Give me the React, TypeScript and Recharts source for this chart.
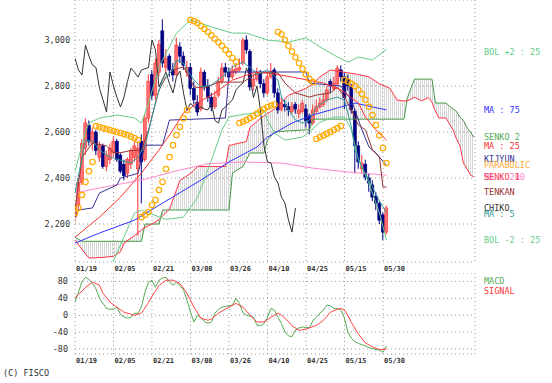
import React from 'react';
import { ComposedChart, Line, Bar, Area, XAxis, YAxis, CartesianGrid } from 'recharts';

// ---------- tick labels ----------
const dateLabels = ['01/19', '02/05', '02/21', '03/08', '03/26', '04/10', '04/25', '05/15', '05/30'];
const dateTickIdx = [0, 11, 22, 33, 44, 55, 66, 77, 88];
const priceTicks = [2200, 2400, 2600, 2800, 3000];
const macdTicks = [-80, -40, 0, 40, 80];

// ---------- daily candles (index 0 = 01/19) ----------
const openP = [2230, 2280, 2380, 2530, 2630, 2550, 2600, 2490, 2540, 2450,
  2480, 2510, 2560, 2500, 2460, 2420, 2460, 2490, 2440, 2560,
  2480, 2660, 2850, 2760, 2860, 3040, 2880, 2930, 2870, 2850,
  2970, 2930, 2860, 2880, 2790, 2730, 2700, 2860, 2800, 2750,
  2710, 2760, 2820, 2880, 2860, 2840, 2860, 2870, 2900, 3000,
  2950, 2800, 2830, 2860, 2810, 2770, 2840, 2870, 2770, 2700,
  2720, 2710, 2690, 2720, 2680, 2690, 2700, 2670, 2640, 2690,
  2710, 2720, 2740, 2820, 2790, 2810, 2870, 2840, 2830, 2800,
  2690, 2540, 2440, 2460, 2400, 2370, 2320, 2290, 2240, 2165];
const highP = [2300, 2400, 2570, 2660, 2650, 2620, 2610, 2560, 2550, 2520,
  2550, 2580, 2570, 2510, 2480, 2490, 2530, 2560, 2560, 2590,
  2680, 2850, 2870, 2920, 3000, 3090, 2960, 2940, 2900, 3010,
  2990, 2950, 2910, 2900, 2820, 2760, 2880, 2870, 2830, 2770,
  2780, 2840, 2900, 2900, 2880, 2890, 2900, 2920, 3010, 3020,
  2960, 2850, 2880, 2870, 2830, 2860, 2900, 2880, 2790, 2750,
  2740, 2730, 2730, 2730, 2720, 2740, 2720, 2680, 2720, 2740,
  2750, 2770, 2800, 2830, 2840, 2890, 2890, 2860, 2850, 2810,
  2700, 2560, 2500, 2480, 2420, 2390, 2340, 2300, 2250, 2280];
const lowP = [2200, 2260, 2370, 2500, 2540, 2520, 2500, 2470, 2440, 2430,
  2460, 2490, 2470, 2420, 2390, 2400, 2440, 2470, 2150, 2290,
  2470, 2640, 2740, 2740, 2840, 2880, 2860, 2840, 2820, 2840,
  2900, 2870, 2840, 2760, 2720, 2670, 2690, 2780, 2730, 2690,
  2700, 2750, 2810, 2840, 2820, 2830, 2850, 2860, 2890, 2940,
  2780, 2780, 2820, 2790, 2750, 2760, 2830, 2750, 2680, 2690,
  2690, 2670, 2680, 2680, 2660, 2680, 2620, 2590, 2630, 2680,
  2700, 2710, 2730, 2770, 2780, 2800, 2820, 2700, 2780, 2680,
  2420, 2440, 2420, 2390, 2340, 2300, 2260, 2200, 2130, 2155];
const closeP = [2280, 2380, 2550, 2640, 2560, 2600, 2520, 2540, 2450, 2500,
  2530, 2560, 2480, 2430, 2410, 2480, 2520, 2540, 2530, 2470,
  2660, 2820, 2760, 2900, 2980, 2900, 2921, 2870, 2848, 2978,
  2930, 2891, 2880, 2790, 2740, 2687, 2861, 2800, 2750, 2709,
  2752, 2820, 2878, 2860, 2839, 2870, 2875, 2880, 3000, 2957,
  2796, 2830, 2860, 2810, 2770, 2840, 2865, 2770, 2696, 2725,
  2710, 2696, 2710, 2700, 2696, 2725, 2650, 2639, 2696, 2710,
  2725, 2740, 2783, 2800, 2813, 2878, 2840, 2750, 2800, 2696,
  2540, 2470, 2465, 2404, 2378, 2317, 2291, 2217, 2165, 2270];

// ---------- indicator readings: [day index, value] ----------
const ma5Pts = [[0, 2335], [3, 2565], [5, 2560], [7, 2522], [10, 2491], [13, 2478], [16, 2465], [18, 2491], [20, 2540], [21, 2600], [23, 2730], [25, 2826], [28, 2870], [29, 2913], [31, 2900], [32, 2870], [34, 2826], [36, 2796], [39, 2805], [42, 2839], [45, 2883], [48, 2904], [51, 2870], [52, 2850], [55, 2870], [58, 2826], [59, 2752], [61, 2696], [63, 2652], [65, 2639], [67, 2652], [69, 2709], [72, 2739], [75, 2752], [77, 2739], [79, 2622], [80, 2522], [82, 2448], [85, 2361], [87, 2300], [89, 2250]];
const ma25Pts = [[0, 2143], [7, 2230], [13, 2317], [19, 2422], [24, 2522], [28, 2609], [31, 2683], [35, 2726], [40, 2770], [45, 2826], [51, 2857], [54, 2860], [62, 2839], [71, 2813], [76, 2783], [81, 2726], [83, 2665], [86, 2609], [89, 2565]];
const ma75Pts = [[0, 2117], [7, 2161], [17, 2217], [26, 2300], [36, 2391], [44, 2470], [52, 2535], [55, 2578], [62, 2639], [68, 2674], [76, 2709], [80, 2726], [89, 2696]];
const ma200Pts = [[0, 2335], [7, 2357], [19, 2391], [30, 2435], [38, 2462], [48, 2470], [59, 2465], [68, 2443], [78, 2426], [89, 2413]];
const bolUpPts = [[0, 2430], [3, 2600], [4, 2639], [7, 2661], [12, 2674], [17, 2661], [19, 2639], [21, 2726], [24, 2883], [29, 3030], [33, 3087], [39, 3057], [45, 3030], [49, 3030], [55, 3000], [61, 2991], [66, 3009], [70, 2970], [75, 2926], [78, 2904], [81, 2926], [85, 2913], [89, 2960]];
const bolDnPts = [[0, 1860], [7, 1820], [9, 1900], [11, 2040], [17, 2248], [19, 2260], [26, 2220], [31, 2230], [35, 2315], [39, 2478], [42, 2609], [44, 2665], [47, 2674], [51, 2683], [54, 2696], [55, 2652], [57, 2596], [60, 2565], [65, 2578], [67, 2600], [70, 2643], [74, 2665], [77, 2665], [79, 2609], [81, 2478], [84, 2378], [87, 2248], [89, 2130]];
const tenkanPts = [[0, 2260], [2, 2491], [5, 2552], [9, 2540], [11, 2510], [13, 2510], [16, 2520], [19, 2520], [21, 2609], [24, 2783], [26, 2839], [28, 2870], [31, 2883], [32, 2857], [34, 2796], [37, 2791], [41, 2817], [48, 2817], [52, 2857], [58, 2857], [60, 2813], [63, 2770], [67, 2752], [69, 2761], [73, 2770], [75, 2796], [77, 2752], [79, 2696], [81, 2630], [83, 2609], [85, 2522], [87, 2491], [88, 2361], [89, 2361]];
const kijunPts = [[0, 2230], [1, 2261], [5, 2270], [7, 2335], [12, 2370], [13, 2400], [18, 2420], [20, 2543], [25, 2543], [27, 2652], [43, 2661], [44, 2861], [66, 2861], [67, 2813], [76, 2800], [79, 2739], [82, 2609], [84, 2535], [86, 2509], [89, 2455]];

// leading spans (cloud), read at common day indices
const cloudIdx = [0, 2, 4, 8, 11, 13, 14, 17, 19, 20, 22, 24, 25, 27, 30, 33, 35, 39, 43, 44, 45, 48, 49, 50, 53, 54, 55, 57, 61, 66, 67, 68, 70, 73, 77, 81, 84, 87, 90, 92, 94, 95, 97, 99, 101, 102, 103, 104, 106, 108, 109, 110, 111, 112, 113, 114];
const senko1 = [2130, 2090, 2052, 2055, 2060, 2080, 2117, 2150, 2175, 2185, 2200, 2220, 2235, 2265, 2390, 2420, 2450, 2450, 2450, 2540, 2545, 2555, 2560, 2620, 2660, 2670, 2680, 2700, 2760, 2790, 2800, 2810, 2840, 2870, 2860, 2850, 2840, 2810, 2790, 2739, 2735, 2735, 2752, 2735, 2750, 2730, 2690, 2661, 2661, 2610, 2570, 2540, 2465, 2440, 2413, 2405];
const senko2 = [2143, 2125, 2125, 2125, 2125, 2125, 2125, 2125, 2125, 2200, 2200, 2200, 2261, 2261, 2261, 2261, 2261, 2261, 2261, 2261, 2422, 2450, 2480, 2509, 2509, 2509, 2565, 2600, 2605, 2609, 2609, 2656, 2656, 2656, 2656, 2656, 2656, 2656, 2656, 2656, 2656, 2750, 2830, 2830, 2830, 2830, 2726, 2726, 2726, 2700, 2690, 2665, 2650, 2620, 2600, 2578];

// parabolic SAR, one per day
const sar = [2248, 2270, 2326, 2383, 2430, 2470,
  2626, 2622, 2617, 2613, 2609, 2604, 2600, 2596, 2591, 2587, 2580, 2574, 2565,
  2230, 2239, 2252, 2283, 2304, 2348, 2383, 2439, 2491, 2543, 2587, 2622, 2660, 2696,
  3087, 3082, 3074, 3061, 3048, 3035, 3020, 3005, 2990, 2975, 2957, 2940, 2922, 2905,
  2639, 2645, 2652, 2661, 2670, 2680, 2690, 2700, 2709, 2715, 2720,
  3035, 3025, 3000, 2975, 2950, 2925, 2900, 2875, 2850, 2830, 2817,
  2570, 2578, 2585, 2593, 2600, 2609, 2617, 2626,
  2826, 2820, 2810, 2800, 2783, 2765, 2740, 2710, 2674, 2630, 2585, 2530, 2465];

// MACD, one per day; signal read at selected days
const macd = [31, 55, 80, 90, 85, 75, 62, 40, 28, 16,
  14, 14, 19, 2, -4, -7, -5, 5, 4, 20,
  55, 78, 83, 66, 83, 88, 90, 78, 71, 78,
  70, 60, 35, 7, -16, 0, -7, -15, -19, -16,
  5, 14, 19, 21, 22, 24, 40, 28, 5, 0,
  -2, -5, -24, -25, -20, -5, 16, 12, -5, -20,
  -40, -49, -51, -35, -30, -28, -29, -30, -12, -5,
  5, 12, 24, 22, 16, 16, 12, -7, -40, -55,
  -63, -67, -70, -73, -77, -79, -81, -83, -88, -73];
const signalPts = [[0, 42], [1, 49], [3, 66], [5, 78], [7, 71], [8, 52], [10, 31], [12, 19], [14, 7], [17, 0], [19, 5], [21, 30], [22, 45], [24, 70], [26, 83], [28, 83], [30, 75], [32, 52], [34, 19], [36, -7], [38, -12], [39, -9], [41, 5], [44, 19], [46, 28], [48, 19], [50, 0], [52, -16], [54, -16], [56, -5], [58, 5], [59, 0], [61, -15], [62, -25], [64, -36], [66, -33], [69, -24], [71, -12], [73, 7], [75, 14], [76, 16], [77, 12], [78, 0], [79, -18], [81, -45], [83, -66], [85, -75], [87, -82], [89, -80]];

const CHIKO_SHIFT = 26;
const LAST_SLOT = 114;
const X_DOMAIN: [number, number] = [0, 114.3];

type Row = { [k: string]: number | undefined };

function buildMainRows(): Row[] {
  const rows: Row[] = [];
  for (let i = 0; i <= LAST_SLOT; i++) rows.push({ i });
  closeP.forEach((c, i) => {
    rows[i].o = openP[i];
    rows[i].h = highP[i];
    rows[i].l = lowP[i];
    rows[i].c = c;
    const j = i - CHIKO_SHIFT;
    if (j >= 0) rows[j].chiko = c;
  });
  const put = (key: string, pts: number[][]) => pts.forEach(([i, v]) => { rows[i][key] = v; });
  put('ma5', ma5Pts);
  put('ma25', ma25Pts);
  put('ma75', ma75Pts);
  put('ma200', ma200Pts);
  put('bolUp', bolUpPts);
  put('bolDn', bolDnPts);
  put('tenkan', tenkanPts);
  put('kijun', kijunPts);
  cloudIdx.forEach((i, k) => { rows[i].s1 = senko1[k]; rows[i].s2 = senko2[k]; });
  sar.forEach((v, i) => { rows[i].sar = v; });
  return rows;
}

function buildMacdRows(): Row[] {
  const rows: Row[] = macd.map((v, i) => ({ i, macd: v }));
  signalPts.forEach(([i, v]) => { rows[i].signal = v; });
  return rows;
}

const mainRows = buildMainRows();
const macdRows = buildMacdRows();

const FONT = "'DejaVu Sans Mono', monospace";

function CandleShape(props: any) {
  const { x, y, width, height, payload } = props;
  if (!payload || payload.h == null || !isFinite(y) || !isFinite(height)) return <g />;
  const top = Math.min(y, y + height);
  const h = Math.abs(height);
  const span = payload.h - payload.l || 1;
  const k = h / span;
  const yo = top + (payload.h - payload.o) * k;
  const yc = top + (payload.h - payload.c) * k;
  const up = payload.c >= payload.o;
  const cx = x + width / 2;
  const bodyTop = Math.min(yo, yc);
  const bodyH = Math.max(1, Math.abs(yo - yc));
  const edge = up ? '#ff3333' : '#000080';
  return (
    <g>
      <line x1={cx} x2={cx} y1={top} y2={top + h} stroke={edge} strokeWidth={1} />
      <rect x={cx - 1.5} y={bodyTop} width={3} height={bodyH} fill={up ? '#ff7070' : '#000080'} stroke={edge} strokeWidth={0.6} />
    </g>
  );
}

const sarDot = (p: any) => {
  if (p.cy == null || p.value == null || !isFinite(p.cy)) return <g key={`sd${p.index}`} />;
  return <circle key={`sd${p.index}`} cx={p.cx} cy={p.cy} r={2.7} fill="none" stroke="#ffaa00" strokeWidth={1.2} />;
};

const DateTick = (props: any) => {
  const { x, y, payload } = props;
  const k = dateTickIdx.indexOf(payload.value);
  return (
    <text x={x + 1} y={y + 8.5} fontSize={7} fontWeight="bold" fontFamily={FONT} fill="#333" textAnchor="start">
      {k >= 0 ? dateLabels[k] : ''}
    </text>
  );
};

const legend = [
  { text: 'BOL +2 : 25', color: '#66cc88', y: 52 },
  { text: 'MA : 75', color: '#3333ff', y: 110 },
  { text: 'SENKO 2', color: '#55aa55', y: 137 },
  { text: 'MA : 25', color: '#ff3333', y: 146 },
  { text: 'KIJYUN', color: '#333399', y: 159 },
  { text: 'PARABOLIC', color: '#ffaa33', y: 165 },
  { text: 'MA : 200', color: '#ff88cc', y: 177 },
  { text: 'SENKO 1', color: '#ff3355', y: 177 },
  { text: 'TENKAN', color: '#993333', y: 192 },
  { text: 'CHIKO', color: '#333333', y: 208 },
  { text: 'MA : 5', color: '#339999', y: 214 },
  { text: 'BOL -2 : 25', color: '#66cc88', y: 240 },
  { text: 'MACD', color: '#55aa55', y: 281 },
  { text: 'SIGNAL', color: '#ff3333', y: 291 },
];

const lineCommon = { dot: false as const, activeDot: false as const, connectNulls: true, isAnimationActive: false, strokeWidth: 1, legendType: 'none' as const };

export default function App() {
  return (
    <div style={{ position: 'absolute', left: 0, top: 0, width: 552, height: 383, background: '#fff', overflow: 'hidden' }}>
      <svg width={0} height={0} style={{ position: 'absolute' }}>
        <defs>
          <pattern id="cloudHatch" width="2" height="4" patternUnits="userSpaceOnUse">
            <rect x="0" y="0" width="1" height="4" fill="#d6d6d6" />
          </pattern>
        </defs>
      </svg>
      <div style={{ position: 'absolute', left: 0, top: 0 }}>
        <ComposedChart width={552} height={282} data={mainRows} margin={{ top: 0, right: 77, bottom: 0, left: 0 }}>
          <CartesianGrid stroke="#999" strokeDasharray="1 3" />
          <XAxis dataKey="i" type="number" domain={X_DOMAIN} ticks={dateTickIdx} interval={0} allowDataOverflow
            height={20} axisLine={false} tickLine={false} tickSize={0} tickMargin={0} tick={<DateTick />} />
          <YAxis type="number" domain={[2035, 3174]} ticks={priceTicks} allowDataOverflow width={75}
            axisLine={false} tickLine={false} tickSize={0} tickMargin={5} interval={0}
            tickFormatter={(v: number) => v.toLocaleString('en-US')}
            tick={{ fontSize: 8.5, fill: '#333', fontFamily: FONT }} />
          <Area dataKey={(d: any) => (d.s1 != null && d.s2 != null ? [Math.min(d.s1, d.s2), Math.max(d.s1, d.s2)] : null)}
            stroke="none" fill="url(#cloudHatch)" fillOpacity={1} connectNulls isAnimationActive={false} dot={false} activeDot={false} legendType="none" />
          <Line dataKey="s2" stroke="#449944" {...lineCommon} />
          <Line dataKey="s1" stroke="#ff3344" {...lineCommon} />
          <Line dataKey="bolUp" stroke="#66cc88" {...lineCommon} />
          <Line dataKey="bolDn" stroke="#66cc88" {...lineCommon} />
          <Line dataKey="ma200" stroke="#ff88cc" {...lineCommon} />
          <Line dataKey="ma75" stroke="#3333ff" {...lineCommon} />
          <Line dataKey="chiko" stroke="#333333" {...lineCommon} />
          <Bar dataKey={(d: any) => (d.h != null ? [d.l, d.h] : null)} barSize={4} shape={(p: any) => <CandleShape {...p} />} isAnimationActive={false} legendType="none" />
          <Line dataKey="kijun" stroke="#333399" {...lineCommon} />
          <Line dataKey="tenkan" stroke="#993333" {...lineCommon} />
          <Line dataKey="ma25" stroke="#ff3333" {...lineCommon} />
          <Line dataKey="ma5" stroke="#339999" {...lineCommon} />
          <Line dataKey="sar" stroke="none" dot={sarDot} activeDot={false} isAnimationActive={false} legendType="none" />
        </ComposedChart>
      </div>
      <div style={{ position: 'absolute', left: 0, top: 273 }}>
        <ComposedChart width={552} height={101} data={macdRows} margin={{ top: 0, right: 77, bottom: 0, left: 0 }}>
          <CartesianGrid stroke="#999" strokeDasharray="1 3" />
          <XAxis dataKey="i" type="number" domain={X_DOMAIN} ticks={dateTickIdx} interval={0} allowDataOverflow
            height={20} axisLine={false} tickLine={false} tickSize={0} tickMargin={0} tick={<DateTick />} />
          <YAxis type="number" domain={[-92, 100]} ticks={macdTicks} allowDataOverflow width={75}
            axisLine={false} tickLine={false} tickSize={0} tickMargin={7} interval={0}
            tick={{ fontSize: 8.5, fill: '#333', fontFamily: FONT }} />
          <Line dataKey="macd" stroke="#55aa55" {...lineCommon} />
          <Line dataKey="signal" stroke="#ff4444" {...lineCommon} />
        </ComposedChart>
      </div>
      <svg width={552} height={383} style={{ position: 'absolute', left: 0, top: 0, pointerEvents: 'none' }}>
        {legend.map((l, k) => (
          <text key={k} x={484} y={l.y} dominantBaseline="central" fontSize={8.5} fontFamily={FONT} fill={l.color}>{l.text}</text>
        ))}
        <text x={3} y={373} dominantBaseline="central" fontSize={8.5} fontFamily={FONT} fill="#333">(C) FISCO</text>
      </svg>
    </div>
  );
}
